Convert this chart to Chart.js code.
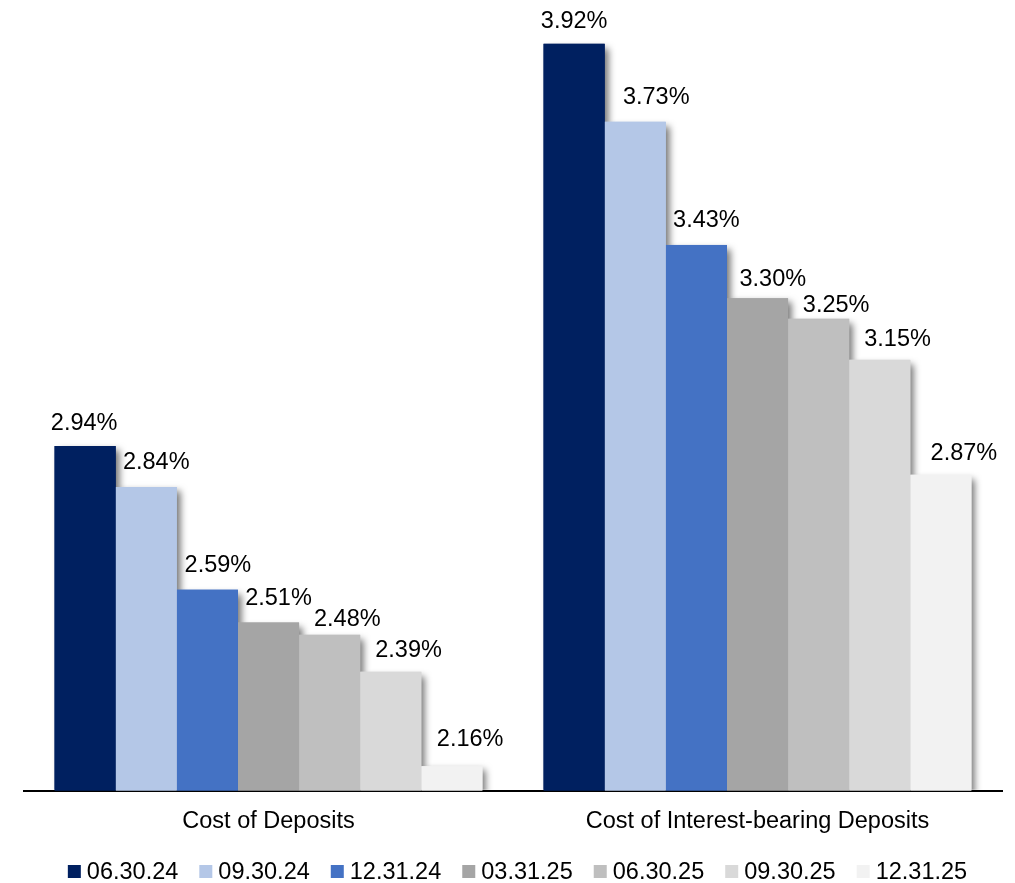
<!DOCTYPE html>
<html>
<head>
<meta charset="utf-8">
<script src="https://cdn.jsdelivr.net/npm/chart.js@4/dist/chart.umd.min.js"></script>
<style>
  html, body { margin: 0; padding: 0; background: #ffffff; }
  #wrap { width: 1015px; height: 883px; }
</style>
</head>
<body>
<div id="wrap"><canvas id="c" width="1015" height="883"></canvas></div>
<script>
const categories = ["Cost of Deposits", "Cost of Interest-bearing Deposits"];
const seriesLabels = ["06.30.24", "09.30.24", "12.31.24", "03.31.25", "06.30.25", "09.30.25", "12.31.25"];
const s063024 = [2.94, 3.92];
const s093024 = [2.84, 3.73];
const s123124 = [2.59, 3.43];
const s033125 = [2.51, 3.30];
const s063025 = [2.48, 3.25];
const s093025 = [2.39, 3.15];
const s123125 = [2.16, 2.87];
const seriesValues = [s063024, s093024, s123124, s033125, s063025, s093025, s123125];
const seriesColors = ["#002060", "#B4C7E7", "#4472C4", "#A5A5A5", "#BFBFBF", "#D9D9D9", "#F2F2F2"];
const yMin = 2.1;
const yMax = 4.0;

// label placement nudges (style only): [dx, gap above bar top] per series, per category
const labelNudge = [
  [[-1, 16.3], [0, 16]],
  [[10, 17.6], [21, 17.6]],
  [[10.5, 17.7], [10, 17.7]],
  [[10, 17.3], [15.3, 12]],
  [[17.7, 9.3], [17.5, 6.7]],
  [[17.8, 14.3], [17.8, 13.4]],
  [[18.3, 20.4], [23, 15]]
];

const FONT = '"Liberation Sans", Arial, Helvetica, sans-serif';
const FS = 23.5;

const shadowPlugin = {
  id: 'barShadow',
  beforeDatasetsDraw(chart) {
    const ctx = chart.ctx;
    const a = chart.chartArea;
    ctx.save();
    ctx.beginPath();
    ctx.rect(a.left, a.top - 20, a.right - a.left + 20, a.bottom - a.top + 19);
    ctx.clip();
    chart.data.datasets.forEach((ds, i) => {
      const meta = chart.getDatasetMeta(i);
      meta.data.forEach(el => {
        const p = el.getProps(['x', 'y', 'base', 'width'], true);
        ctx.save();
        ctx.shadowColor = 'rgba(0,0,0,0.55)';
        ctx.shadowBlur = 7;
        ctx.shadowOffsetX = 4;
        ctx.shadowOffsetY = 4;
        ctx.fillStyle = ds.backgroundColor;
        ctx.fillRect(p.x - p.width / 2, p.y, p.width, p.base - p.y);
        ctx.restore();
      });
    });
    ctx.restore();
  }
};

const labelPlugin = {
  id: 'valueLabels',
  afterDatasetsDraw(chart) {
    const ctx = chart.ctx;
    ctx.save();
    ctx.font = FS + 'px ' + FONT;
    ctx.fillStyle = '#000000';
    ctx.textAlign = 'center';
    ctx.textBaseline = 'alphabetic';
    chart.data.datasets.forEach((ds, i) => {
      const meta = chart.getDatasetMeta(i);
      meta.data.forEach((el, j) => {
        const p = el.getProps(['x', 'y'], true);
        const n = labelNudge[i][j];
        ctx.fillText(ds.data[j].toFixed(2) + '%', p.x + n[0], p.y - n[1]);
      });
    });
    ctx.restore();
  }
};

const legendPlugin = {
  id: 'customLegend',
  afterDraw(chart) {
    const ctx = chart.ctx;
    ctx.save();
    ctx.font = FS + 'px ' + FONT;
    const box = 13, gap = 6, spacing = 21;
    const widths = chart.data.datasets.map(ds => box + gap + ctx.measureText(ds.label).width);
    const total = widths.reduce((s, w) => s + w, 0) + spacing * (widths.length - 1);
    let x = 517.5 - total / 2;
    const boxTop = 865;
    chart.data.datasets.forEach((ds, i) => {
      ctx.fillStyle = ds.backgroundColor;
      ctx.fillRect(x, boxTop, box, box);
      ctx.fillStyle = '#000000';
      ctx.textAlign = 'left';
      ctx.textBaseline = 'alphabetic';
      ctx.fillText(ds.label, x + box + gap, 879);
      x += widths[i] + spacing;
    });
    ctx.restore();
  }
};

const datasets = seriesLabels.map((lab, i) => ({
  label: lab,
  data: seriesValues[i],
  backgroundColor: seriesColors[i],
  borderWidth: 0,
  categoryPercentage: 0.875,
  barPercentage: 1.0
}));

new Chart(document.getElementById('c'), {
  type: 'bar',
  data: { labels: categories, datasets: datasets },
  options: {
    responsive: false,
    animation: false,
    devicePixelRatio: 1,
    layout: { padding: { left: 24, right: 13, top: 11, bottom: 30 } },
    plugins: {
      legend: { display: false },
      tooltip: { enabled: false }
    },
    scales: {
      x: {
        grid: { display: false, drawTicks: false },
        border: { display: true, color: '#000000', width: 2 },
        ticks: { color: '#000000', padding: 17, font: { family: FONT, size: FS } }
      },
      y: {
        display: false,
        min: yMin,
        max: yMax
      }
    }
  },
  plugins: [shadowPlugin, labelPlugin, legendPlugin]
});
</script>
</body>
</html>
